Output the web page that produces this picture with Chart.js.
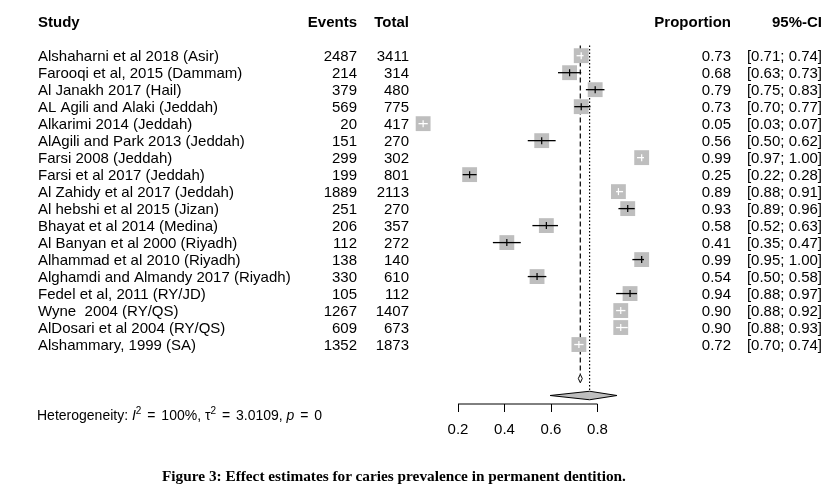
<!DOCTYPE html>
<html>
<head>
<meta charset="utf-8">
<script src="https://cdn.jsdelivr.net/npm/chart.js@4"></script>
<style>
  html, body { margin: 0; padding: 0; background: #fff; }
  #wrap { position: relative; width: 840px; height: 492px; }
  #forest { position: absolute; left: 0; top: 0; }
  #caption { position: absolute; left: 162px; top: 467px; font: bold 15.3px 'Liberation Serif', serif; color: #000; white-space: nowrap; }
</style>
</head>
<body>
<div id="wrap">
  <canvas id="forest" width="840" height="492"></canvas>
  <div id="caption">Figure 3: Effect estimates for caries prevalence in permanent dentition.</div>
</div>
<script>
const studies = [
  'Alshaharni et al 2018 (Asir)', 'Farooqi et al, 2015 (Dammam)', 'Al Janakh 2017 (Hail)',
  'AL Agili and Alaki (Jeddah)', 'Alkarimi 2014 (Jeddah)', 'AlAgili and Park 2013 (Jeddah)',
  'Farsi 2008 (Jeddah)', 'Farsi et al 2017 (Jeddah)', 'Al Zahidy et al 2017 (Jeddah)',
  'Al hebshi et al 2015 (Jizan)', 'Bhayat et al 2014 (Medina)', 'Al Banyan et al 2000 (Riyadh)',
  'Alhammad et al 2010 (Riyadh)', 'Alghamdi and Almandy 2017 (Riyadh)', 'Fedel et al, 2011 (RY/JD)',
  'Wyne  2004 (RY/QS)', 'AlDosari et al 2004 (RY/QS)', 'Alshammary, 1999 (SA)'
];
const events = [2487, 214, 379, 569, 20, 151, 299, 199, 1889, 251, 206, 112, 138, 330, 105, 1267, 609, 1352];
const totals = [3411, 314, 480, 775, 417, 270, 302, 801, 2113, 270, 357, 272, 140, 610, 112, 1407, 673, 1873];
const proportions = [0.73, 0.68, 0.79, 0.73, 0.05, 0.56, 0.99, 0.25, 0.89, 0.93, 0.58, 0.41, 0.99, 0.54, 0.94, 0.90, 0.90, 0.72];
const ciLower = [0.71, 0.63, 0.75, 0.70, 0.03, 0.50, 0.97, 0.22, 0.88, 0.89, 0.52, 0.35, 0.95, 0.50, 0.88, 0.88, 0.88, 0.70];
const ciUpper = [0.74, 0.73, 0.83, 0.77, 0.07, 0.62, 1.00, 0.28, 0.91, 0.96, 0.63, 0.47, 1.00, 0.58, 0.97, 0.92, 0.93, 0.74];

// pooled: common effect (small diamond), random effects (big diamond)
const pooledEst = [0.726, 0.766];
const pooledLower = [0.7175, 0.596];
const pooledUpper = [0.7345, 0.884];

const xTicks = [0.2, 0.4, 0.6, 0.8];
const hetI2 = '100%';
const hetTau2 = '3.0109';
const hetP = '0';

const n = studies.length;
const commonRow = n + 1;
const randomRow = n + 2;
const axisRow = n + 2.5;
const gray = '#bebebe';

// CI drawn white when it sits inside the box
const ciWhite = proportions.map((p, i) =>
  (ciUpper[i] - ciLower[i]) < 0.055 && Math.max(p - ciLower[i], ciUpper[i] - p) < 0.035);

const points = proportions.map((p, i) => ({ x: p, y: i }));

function diamond(k, row, h) {
  return [
    { x: pooledLower[k], y: row },
    { x: pooledEst[k], y: row - h },
    { x: pooledUpper[k], y: row },
    { x: pooledEst[k], y: row + h },
    { x: pooledLower[k], y: row }
  ];
}

const datasets = [
  {
    type: 'scatter', data: points, pointStyle: 'line', pointRotation: 90, pointRadius: 3.5,
    pointBorderWidth: 1.2, pointBorderColor: ciWhite.map(w => w ? '#fff' : '#000'), clip: false
  },
  ...proportions.map((p, i) => ({
    type: 'line', data: [{ x: ciLower[i], y: i }, { x: ciUpper[i], y: i }],
    borderColor: ciWhite[i] ? '#fff' : '#000', borderWidth: 1.3, pointRadius: 0, clip: false
  })),
  {
    type: 'scatter', data: points, pointStyle: 'rect', pointRadius: 10.5,
    pointBackgroundColor: gray, pointBorderWidth: 0, clip: false
  },
  {
    type: 'line', data: diamond(0, commonRow, 0.25), fill: 'shape', backgroundColor: '#fff',
    borderColor: '#000', borderWidth: 1, pointRadius: 0, clip: false
  },
  {
    type: 'line', data: diamond(1, randomRow, 0.25), fill: 'shape', backgroundColor: gray,
    borderColor: '#000', borderWidth: 1, pointRadius: 0, clip: false
  },
  {
    type: 'line', data: [{ x: pooledEst[0], y: -0.6 }, { x: pooledEst[0], y: commonRow - 0.25 }],
    borderColor: '#000', borderWidth: 1.2, borderDash: [5, 3], pointRadius: 0, clip: false
  },
  {
    type: 'line', data: [{ x: pooledEst[1], y: -0.6 }, { x: pooledEst[1], y: randomRow - 0.25 }],
    borderColor: '#000', borderWidth: 1.2, borderDash: [1.5, 2], pointRadius: 0, clip: false
  },
  {
    type: 'line', data: [{ x: xTicks[0], y: axisRow }, { x: xTicks[xTicks.length - 1], y: axisRow }],
    borderColor: '#000', borderWidth: 1, pointRadius: 0, clip: false
  }
];

const FONT = '"Liberation Sans", Arial, sans-serif';

const tablePlugin = {
  id: 'table',
  afterDraw(chart) {
    const { ctx, scales: { y } } = chart;
    ctx.save();
    ctx.fillStyle = '#000';
    ctx.textBaseline = 'middle';

    const hy = y.getPixelForValue(-2) + 1.5;
    ctx.font = 'bold 15px ' + FONT;
    ctx.textAlign = 'left';
    ctx.fillText('Study', 38, hy);
    ctx.textAlign = 'right';
    ctx.fillText('Events', 357, hy);
    ctx.fillText('Total', 409, hy);
    ctx.fillText('Proportion', 731, hy);
    ctx.fillText('95%-CI', 822, hy);

    ctx.font = '15px ' + FONT;
    studies.forEach((s, i) => {
      const yy = y.getPixelForValue(i) + 1.5;
      ctx.textAlign = 'left';
      ctx.fillText(s, 38, yy);
      ctx.textAlign = 'right';
      ctx.fillText(String(events[i]), 357, yy);
      ctx.fillText(String(totals[i]), 409, yy);
      ctx.fillText(proportions[i].toFixed(2), 731, yy);
      ctx.fillText('[' + ciLower[i].toFixed(2) + '; ' + ciUpper[i].toFixed(2) + ']', 822, yy);
    });

    // heterogeneity line
    ctx.textAlign = 'left';
    ctx.textBaseline = 'alphabetic';
    let hx = 37;
    const by = 420;
    const part = (txt, font, dy) => {
      ctx.font = font;
      ctx.fillText(txt, hx, by + (dy || 0));
      hx += ctx.measureText(txt).width;
    };
    const gap = w => { hx += w; };
    const reg = '14px ' + FONT, ital = 'italic 14px ' + FONT, sup = '10px ' + FONT;
    part('Heterogeneity: ', reg);
    part('I', ital);
    part('2', sup, -6);
    gap(2); part(' = ', reg); gap(2);
    part(hetI2 + ', ', reg);
    part('\u03c4', reg);
    part('2', sup, -6);
    gap(2); part(' = ', reg); gap(2);
    part(hetTau2 + ', ', reg);
    part('p', ital);
    gap(2); part(' = ', reg); gap(2);
    part(hetP, reg);
    ctx.restore();
  }
};

new Chart(document.getElementById('forest').getContext('2d'), {
  type: 'scatter',
  data: { datasets: datasets },
  options: {
    responsive: false,
    animation: false,
    events: [],
    layout: { padding: { left: 411.5, right: 196, top: 38.7, bottom: 28 } },
    plugins: { legend: { display: false }, tooltip: { enabled: false } },
    scales: {
      x: {
        type: 'linear', min: 0, max: 1,
        afterBuildTicks: axis => { axis.ticks = xTicks.map(v => ({ value: v })); },
        afterFit: axis => { axis.height = 60; },
        border: { display: false },
        grid: { drawOnChartArea: false, drawTicks: true, tickLength: 8, color: '#000', lineWidth: 1 },
        ticks: { color: '#000', padding: 9, font: { size: 15, family: FONT }, callback: v => v.toFixed(1), maxRotation: 0 }
      },
      y: { type: 'linear', reverse: true, min: -1, max: axisRow, display: false }
    }
  },
  plugins: [tablePlugin]
});
</script>
</body>
</html>
